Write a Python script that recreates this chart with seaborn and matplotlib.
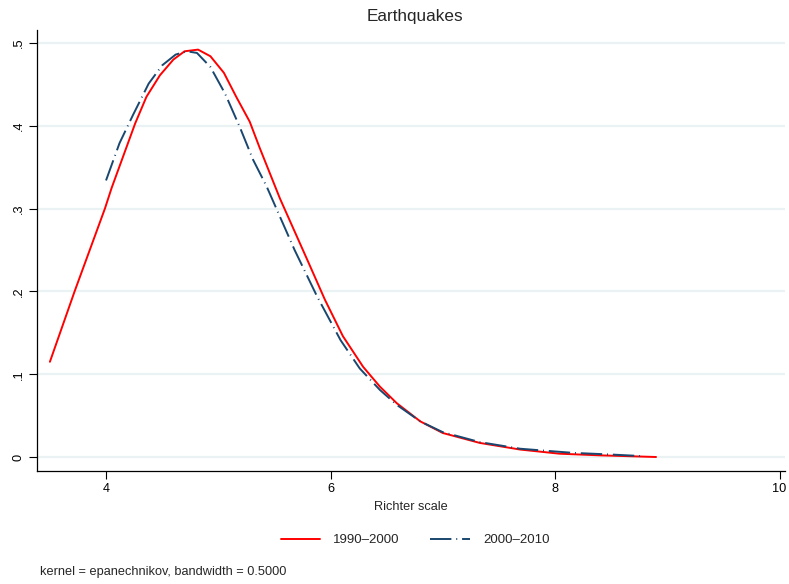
import matplotlib
matplotlib.use("Agg")
import matplotlib.pyplot as plt
import pandas as pd
import seaborn as sns

# kernel density readings (Richter scale vs density)
x_1990 = [3.50, 3.72, 3.99, 4.05, 4.26, 4.36, 4.48, 4.60, 4.70, 4.82, 4.93, 5.05, 5.16, 5.28, 5.37,
          5.55, 5.80, 5.95, 6.11, 6.29, 6.44, 6.59, 6.80, 7.00, 7.33, 7.69, 8.04, 8.40, 8.90]
y_1990 = [0.115, 0.200, 0.300, 0.325, 0.403, 0.435, 0.461, 0.480, 0.490, 0.492, 0.484, 0.464, 0.435, 0.405, 0.373,
          0.312, 0.236, 0.190, 0.146, 0.109, 0.085, 0.065, 0.043, 0.029, 0.017, 0.009, 0.004, 0.002, 0.000]

x_2000 = [4.00, 4.12, 4.24, 4.38, 4.50, 4.62, 4.72, 4.81, 4.93, 5.06, 5.19, 5.31, 5.43, 5.68, 5.88,
          6.09, 6.26, 6.44, 6.59, 6.80, 7.00, 7.33, 7.69, 8.16, 8.50, 8.79]
y_2000 = [0.334, 0.379, 0.413, 0.451, 0.473, 0.486, 0.490, 0.488, 0.471, 0.439, 0.399, 0.359, 0.327, 0.250, 0.194,
          0.141, 0.107, 0.081, 0.063, 0.043, 0.030, 0.018, 0.010, 0.005, 0.003, 0.001]

labels = ["1990–2000", "2000–2010"]
x_ticks = [4, 6, 8, 10]
y_ticks = [0, 0.1, 0.2, 0.3, 0.4, 0.5]
y_tick_labels = ["0", ".1", ".2", ".3", ".4", ".5"]

df = pd.concat([
    pd.DataFrame({"richter": x_1990, "density": y_1990, "period": labels[0]}),
    pd.DataFrame({"richter": x_2000, "density": y_2000, "period": labels[1]}),
])

red = "#ff0000"
navy = "#1a476f"
dash_dot = (11, 2.5, 0.5, 2.5)

sns.set_theme(style="white")
plt.rcParams['font.family'] = ['Liberation Sans', 'DejaVu Sans']

fig = plt.figure(figsize=(7.89, 5.84), dpi=100)
ax = fig.add_axes([37 / 789, 1 - 471 / 584, (785 - 37) / 789, (471 - 30) / 584])

sns.lineplot(data=df, x="richter", y="density", hue="period", style="period",
             palette={labels[0]: red, labels[1]: navy},
             dashes={labels[0]: "", labels[1]: dash_dot},
             estimator=None, sort=False, linewidth=1.4, ax=ax, legend=False)

ax.set_xlim(3.385, 10.049)
ax.set_ylim(-0.0169, 0.5157)
ax.set_xticks(x_ticks)
ax.set_xticklabels([str(t) for t in x_ticks])
ax.set_yticks(y_ticks)
ax.set_yticklabels(y_tick_labels, rotation=90, va="center")
ax.yaxis.grid(True, color="#eaf2f3", linewidth=1.6)
ax.set_axisbelow(True)
ax.tick_params(axis="both", which="both", direction="out", length=5.8, width=0.8,
               colors="black", labelsize=9.2, left=True, bottom=True, pad=3)
for side in ["top", "right"]:
    ax.spines[side].set_visible(False)
for side in ["left", "bottom"]:
    ax.spines[side].set_color("black")
    ax.spines[side].set_linewidth(0.9)

ax.set_xlabel("Richter scale", fontsize=9.2, labelpad=4)
ax.set_ylabel("")
fig.text(415 / 789, 1 - 16 / 584, "Earthquakes", fontsize=12.3, ha="center", va="center")

handles = [plt.Line2D([], [], color=red, lw=1.4),
           plt.Line2D([], [], color=navy, lw=1.4, dashes=dash_dot)]
fig.legend(handles, labels, loc="center", bbox_to_anchor=(415 / 789, 1 - 540 / 584), ncol=2,
           frameon=False, fontsize=9.5, handlelength=3.0, handletextpad=1.0, columnspacing=2.3)

fig.text(40 / 789, 1 - 572 / 584, "kernel = epanechnikov, bandwidth = 0.5000",
         fontsize=9.2, va="center", ha="left")

fig.savefig("out.png", dpi=100, facecolor="white")
